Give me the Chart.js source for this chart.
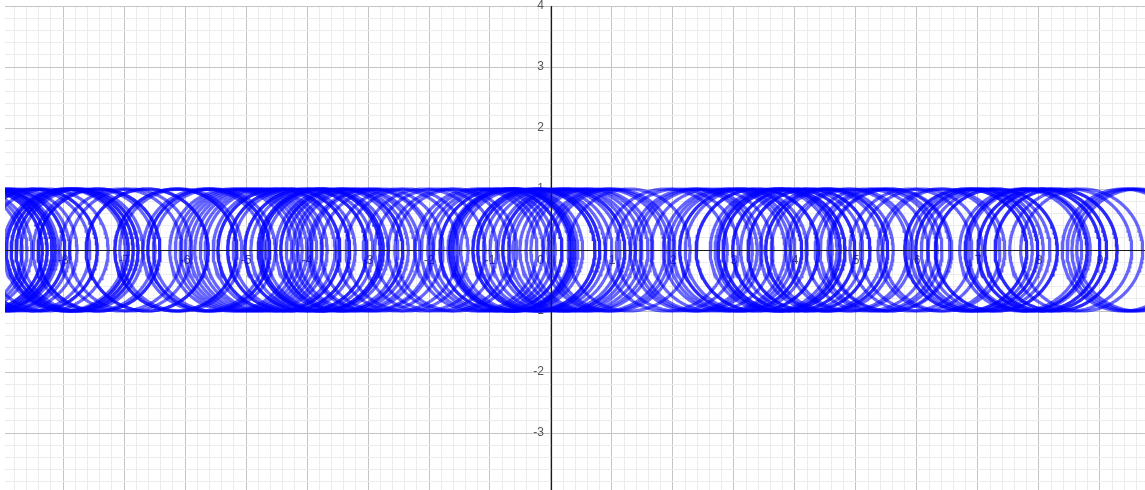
<!DOCTYPE html>
<html>
<head>
<meta charset="utf-8">
<script src="https://cdn.jsdelivr.net/npm/chart.js@4.4.1/dist/chart.umd.min.js"></script>
<style>
  html, body { margin: 0; padding: 0; background: #ffffff; overflow: hidden; }
  canvas { display: block; }
</style>
</head>
<body>
<canvas id="plot" width="1145" height="490"></canvas>
<script>
// Centres (x, on the x-axis) of the unit circles; repeated values are stacked circles
const circleCenters = [
  9.62, 9.54, 9.46, 9.38,
  8.70, 8.52, 8.28, 8.28, 8.11, 8.11, 8.00, 8.00, 7.84, 7.79, 7.79, 7.70, 7.30, 7.30, 7.18, 7.07,
  6.98, 6.98, 6.89, 6.80, 6.80, 6.44, 6.36, 6.07, 5.90, 5.57, 5.54, 5.41, 5.33, 5.18, 4.93, 4.85,
  4.61, 4.52, 4.52, 4.43, 4.23, 4.23, 4.11, 3.98, 3.98, 3.82, 3.82, 3.74, 3.74, 3.69, 3.61, 3.38,
  3.38, 3.20, 3.11, 3.11, 3.00, 2.92, 2.84, 2.64, 2.46, 2.38, 2.30, 2.07, 1.89, 1.28, 1.03, 0.95,
  0.87, 0.67, 0.59, 0.49, 0.38, 0.30, 0.21, 0.21, 0.13, 0.00,
  -0.11, -0.20, -0.20, -0.28, -0.28, -0.48, -0.56, -0.61, -0.61, -0.66, -0.66, -0.69, -0.82, -0.82,
  -0.93, -1.02, -1.13, -1.23, -1.56, -1.67, -1.89, -2.08, -2.36, -2.52, -2.77, -2.93, -2.98, -3.15,
  -3.23, -3.34, -3.43, -3.43, -3.51, -3.67, -3.75, -3.75, -3.80, -3.80, -3.92, -4.02, -4.02, -4.21,
  -4.30, -4.30, -4.46, -4.46, -4.54, -4.67, -4.75, -4.84, -4.92, -5.00, -5.08, -5.16, -5.25, -5.52,
  -5.61, -5.61, -5.69, -6.07, -6.15, -6.15, -6.62, -6.62, -6.89, -7.05, -7.41, -7.41, -7.49, -7.69,
  -7.77, -7.77, -7.85, -7.85, -7.93, -7.93, -7.98, -8.26, -8.44, -8.44, -8.56, -8.77, -8.89, -8.97,
  -8.97, -9.08, -9.13, -9.13, -9.18, -9.18, -9.26, -9.26, -9.34, -9.34, -9.51, -9.59, -9.67
];
const circleRadius = 1;

// Axis labels
const xTickLabels = [-8, -7, -6, -5, -4, -3, -2, -1, 0, 1, 2, 3, 4, 5, 6, 7, 8, 9];
const yTickLabels = [-3, -2, -1, 1, 2, 3, 4];

// Visible window
const xWindow = [-8.951, 9.738];
const yWindow = [-3.934, 4.0];

const SEGMENTS = 180;
function circlePoints(cx, r) {
  const pts = [];
  for (let i = 0; i <= SEGMENTS; i++) {
    const t = (i / SEGMENTS) * Math.PI * 2;
    pts.push({ x: cx + r * Math.cos(t), y: r * Math.sin(t) });
  }
  return pts;
}

const datasets = circleCenters.map(cx => ({
  data: circlePoints(cx, circleRadius),
  showLine: true,
  fill: false,
  tension: 0,
  borderColor: 'rgba(0, 0, 255, 0.6)',
  borderWidth: 3.2,
  pointRadius: 0,
  pointHoverRadius: 0
}));

// Grid every 0.2 with darker lines at whole units
function gridValues(lo, hi) {
  const vals = [];
  for (let k = Math.ceil(lo * 5); k <= Math.floor(hi * 5); k++) vals.push(k / 5);
  return vals;
}
function gridColor(ctx) {
  const v = ctx.tick ? ctx.tick.value : 0;
  if (Math.abs(v - Math.round(v)) < 1e-6) return '#c4c4c4';
  return '#ececec';
}

const axisLabels = {
  id: 'axisLabels',
  beforeDatasetsDraw(chart) {
    const { ctx, scales: { x, y } } = chart;
    const ox = x.getPixelForValue(0);
    const oy = y.getPixelForValue(0);
    ctx.save();
    ctx.font = '12px "Liberation Sans", Arial, sans-serif';
    ctx.fillStyle = '#555555';
    ctx.textBaseline = 'middle';
    xTickLabels.forEach(v => {
      const px = x.getPixelForValue(v);
      if (v === 0) {
        ctx.textAlign = 'right';
        ctx.fillText('0', ox - 7, oy + 11);
      } else {
        ctx.textAlign = 'center';
        ctx.fillText(String(v), px, oy + 11);
      }
    });
    ctx.textAlign = 'right';
    yTickLabels.forEach(v => {
      const py = y.getPixelForValue(v);
      ctx.fillText(String(v), ox - 7, py);
    });
    ctx.restore();
  },
  afterDatasetsDraw(chart) {
    const { ctx, chartArea: a, scales: { x, y } } = chart;
    const ox = Math.round(x.getPixelForValue(0)) + 0.5;
    const oy = Math.round(y.getPixelForValue(0)) + 0.5;
    ctx.save();
    ctx.strokeStyle = '#1a1a1a';
    ctx.lineWidth = 1.2;
    ctx.beginPath();
    ctx.moveTo(a.left, oy); ctx.lineTo(a.right, oy);
    ctx.moveTo(ox, a.top); ctx.lineTo(ox, a.bottom);
    ctx.stroke();
    ctx.restore();
  }
};

new Chart(document.getElementById('plot'), {
  type: 'scatter',
  data: { datasets },
  options: {
    responsive: false,
    animation: false,
    events: [],
    layout: { padding: { left: 5, top: 6, right: 0, bottom: 0 } },
    plugins: { legend: { display: false }, tooltip: { enabled: false } },
    scales: {
      x: {
        type: 'linear',
        min: xWindow[0], max: xWindow[1],
        position: { y: 0 },
        afterBuildTicks: s => { s.ticks = gridValues(xWindow[0], xWindow[1]).map(v => ({ value: v })); },
        ticks: { display: false },
        grid: { color: gridColor, lineWidth: 1, drawTicks: false },
        border: { display: false }
      },
      y: {
        type: 'linear',
        min: yWindow[0], max: yWindow[1],
        position: { x: 0 },
        afterBuildTicks: s => { s.ticks = gridValues(yWindow[0], yWindow[1]).map(v => ({ value: v })); },
        ticks: { display: false },
        grid: { color: gridColor, lineWidth: 1, drawTicks: false },
        border: { display: false }
      }
    }
  },
  plugins: [axisLabels]
});
</script>
</body>
</html>
